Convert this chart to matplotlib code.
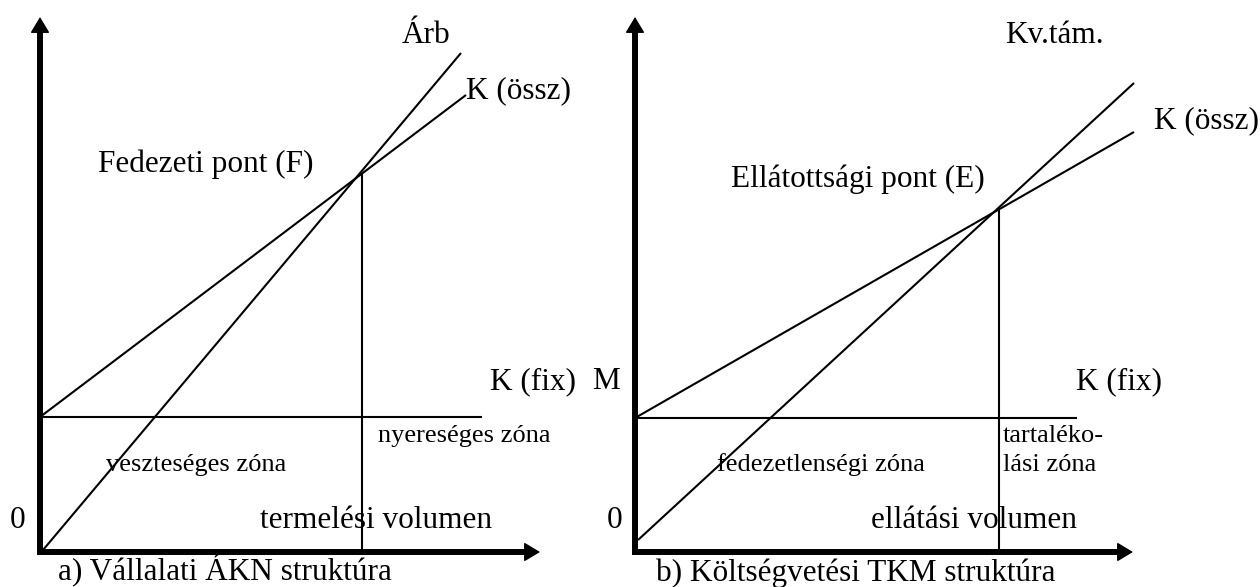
import matplotlib
matplotlib.use("Agg")
import matplotlib.pyplot as plt

# left panel: a) Vállalati ÁKN struktúra (units: volume on x, value on y)
fix_a = 2.7                      # K (fix)
ossz_a_x = [0.0, 8.52]           # K (össz) line
ossz_a_y = [2.7, 9.14]
arb_x = [0.06, 8.42]             # Árb line
arb_y = [0.04, 9.98]
f_point = (6.44, 7.58)           # Fedezeti pont (F)
fix_a_end = 8.84

# right panel: b) Költségvetési TKM struktúra
fix_b = 2.68
ossz_b_x = [0.0, 9.98]
ossz_b_y = [2.68, 8.4]
kvtam_x = [0.06, 9.98]
kvtam_y = [0.24, 9.38]
e_point = (7.28, 6.88)           # Ellátottsági pont (E)
fix_b_end = 8.84

x_axis_end = [10.0, 9.96]
y_axis_end = 10.7

plt.rcParams["font.family"] = ["Liberation Serif", "DejaVu Serif"]
BIG = 22.5
SMALL = 19

fig = plt.figure(figsize=(12.6, 5.87), dpi=100)
# 50 px per unit, origin at (40, 552) / (635, 552) px
ax_a = fig.add_axes([0, 0, 0.5, 1])
ax_b = fig.add_axes([0.5, 0, 0.5, 1])
ax_a.set_xlim(-0.8, 11.8)
ax_b.set_xlim(-0.1, 12.5)
for ax in (ax_a, ax_b):
    ax.set_ylim(-0.7, 11.04)
    ax.axis("off")

head = dict(arrowstyle="-|>,head_length=1.0,head_width=0.6", lw=1,
            color="black", shrinkA=0, shrinkB=0, mutation_scale=10)


def draw_axes(ax, x_end):
    ax.plot([0, 0], [-0.06, y_axis_end - 0.2], color="black", lw=4.3,
            solid_capstyle="butt", clip_on=False)
    ax.plot([-0.06, x_end - 0.2], [0, 0], color="black", lw=4.3,
            solid_capstyle="butt", clip_on=False)
    ax.annotate("", xy=(0, y_axis_end), xytext=(0, y_axis_end - 0.5),
                arrowprops=head, annotation_clip=False)
    ax.annotate("", xy=(x_end, 0), xytext=(x_end - 0.5, 0),
                arrowprops=head, annotation_clip=False)


thin = dict(color="black", lw=1.5, solid_capstyle="butt")

# --- a) panel
draw_axes(ax_a, x_axis_end[0])
ax_a.plot([0, fix_a_end], [fix_a, fix_a], **thin)
ax_a.plot(ossz_a_x, ossz_a_y, **thin)
ax_a.plot(arb_x, arb_y, **thin)
ax_a.plot([f_point[0], f_point[0]], [0, f_point[1]], **thin)

ax_a.text(7.24, 10.18, "Árb", fontsize=BIG)
ax_a.text(8.52, 9.08, "K (össz)", fontsize=BIG)
ax_a.text(1.16, 7.6, "Fedezeti pont (F)", fontsize=BIG)
ax_a.text(9.0, 3.26, "K (fix)", fontsize=BIG)
ax_a.text(6.76, 2.2, "nyereséges zóna", fontsize=SMALL)
ax_a.text(1.32, 1.62, "veszteséges zóna", fontsize=SMALL)
ax_a.text(4.4, 0.48, "termelési volumen", fontsize=BIG)
ax_a.text(-0.6, 0.48, "0", fontsize=BIG)
ax_a.text(0.36, -0.57, "a) Vállalati ÁKN struktúra", fontsize=BIG)

# --- b) panel
draw_axes(ax_b, x_axis_end[1])
ax_b.plot([0, fix_b_end], [fix_b, fix_b], **thin)
ax_b.plot(ossz_b_x, ossz_b_y, **thin)
ax_b.plot(kvtam_x, kvtam_y, **thin)
ax_b.plot([e_point[0], e_point[0]], [0, e_point[1]], **thin)

ax_b.text(7.4, 10.18, "Kv.tám.", fontsize=BIG)
ax_b.text(10.38, 8.48, "K (össz)", fontsize=BIG)
ax_b.text(1.92, 7.3, "Ellátottsági pont (E)", fontsize=BIG)
ax_b.text(8.82, 3.26, "K (fix)", fontsize=BIG)
ax_b.text(-0.86, 3.26, "M", fontsize=BIG)
ax_b.text(7.36, 2.2, "tartaléko-", fontsize=SMALL)
ax_b.text(7.36, 1.62, "lási zóna", fontsize=SMALL)
ax_b.text(1.64, 1.62, "fedezetlenségi zóna", fontsize=SMALL)
ax_b.text(4.72, 0.48, "ellátási volumen", fontsize=BIG)
ax_b.text(-0.56, 0.48, "0", fontsize=BIG)
ax_b.text(0.42, -0.57, "b) Költségvetési TKM struktúra", fontsize=BIG)

fig.savefig("out.png", dpi=100)
